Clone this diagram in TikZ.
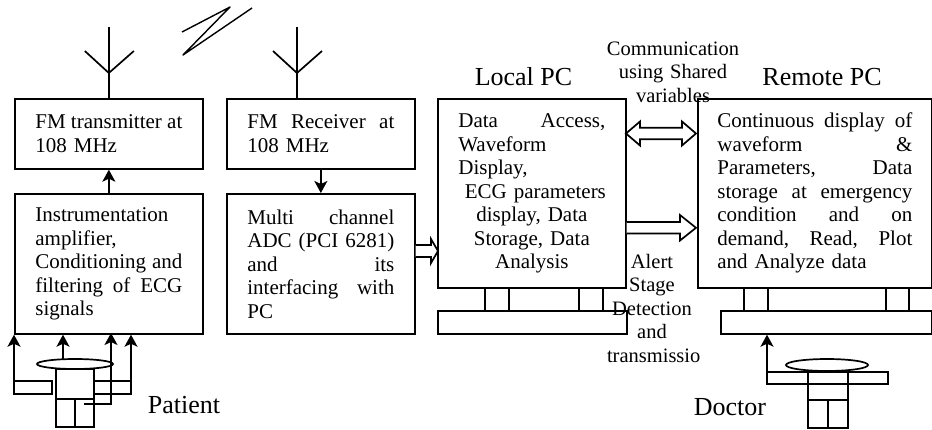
\documentclass[tikz,border=0pt]{standalone}
\usepackage{fontspec}
\setmainfont{Liberation Serif}
\usetikzlibrary{arrows.meta}
% one line of a block's text: spread to the full width, flush left or centred
\newcommand\jrow[1]{\hbox to\linewidth{\spaceskip=0.25em plus 1fil\relax #1}\par}
\newcommand\lrow[1]{\makebox[\linewidth][l]{#1}\par}
\newcommand\crow[1]{\makebox[\linewidth][c]{#1}\par}

\begin{document}
\begin{tikzpicture}[x=1pt,y=-1pt,
  line width=1.7pt, line join=miter,
  block/.style={draw, rectangle, inner xsep=20.5pt, inner ysep=0pt, anchor=north west,
    font=\fontsize{21}{23.5}\selectfont},
  stand/.style={draw, rectangle, inner sep=0pt, anchor=north west},
  lbl/.style={font=\fontsize{26}{30}\selectfont, inner sep=0pt, anchor=base},
  note/.style={font=\fontsize{20.5}{23.6}\selectfont, inner sep=0pt, align=center, anchor=base},
  sig/.style={-{Stealth[length=12pt,width=13pt,inset=3pt]}},
  hollow/.style={draw, fill=white, line join=miter},
]
\useasboundingbox (0,0) rectangle (932,429);

% ---------- acquisition side ----------
\node[block, minimum width=188pt, minimum height=70pt, text width=147pt] (tx) at (14,98)
  {\jrow{FM transmitter at}\lrow{108 MHz}};
\node[block, minimum width=188pt, minimum height=70pt, text width=147pt] (rx) at (226,98)
  {\jrow{FM Receiver at}\lrow{108 MHz}};
\node[block, minimum width=188pt, minimum height=140pt, text width=147pt] (amp) at (14,193)
  {\lrow{Instrumentation}\lrow{amplifier,}\jrow{Conditioning and}\jrow{filtering of ECG}\lrow{signals}};
\node[block, minimum width=188pt, minimum height=140pt, text width=147pt] (adc) at (226,193)
  {\jrow{Multi channel}\jrow{ADC (PCI 6281)}\jrow{and its}\jrow{interfacing with}\lrow{PC}};

\draw[sig] (amp.north) -- (tx.south);
\draw[sig] (rx.south) -- (adc.north);

% antennas
\draw (tx.north) -- ++(0,-71);
\draw ([shift={(-24,-47)}]tx.north) -- ([shift={(0,-25)}]tx.north) -- ([shift={(25,-47)}]tx.north);
\coordinate (rxfeed) at (297,98);
\draw (rxfeed) -- ++(0,-71);
\draw ([shift={(-24,-47)}]rxfeed) -- ([shift={(0,-25)}]rxfeed) -- ([shift={(25,-47)}]rxfeed);

% radio link
\draw[line width=1.4pt, line join=round] (182,32) -- (230,7) -- (183,55) -- (252,8);

% ---------- local PC ----------
\node[lbl] (localname) at (523.5,85) {Local PC};
\node[block, minimum width=188pt, minimum height=189pt, text width=147pt] (local) at (437,98)
  {\jrow{Data Access,}\lrow{Waveform}\lrow{Display,}\crow{ ECG parameters}\crow{display, Data}\crow{Storage, Data}\crow{Analysis}};
\node[stand, minimum width=24pt, minimum height=23pt] (lfoot1) at (484,287) {};
\node[stand, minimum width=24pt, minimum height=23pt] (lfoot2) at (578,287) {};
\node[stand, minimum width=189pt, minimum height=23pt] (lbase) at (437,310) {};

% ---------- remote PC ----------
\node[lbl] (remotename) at (822,85) {Remote PC};
\node[block, inner xsep=19.5pt, minimum width=234pt, minimum height=189pt, text width=195pt] (remote) at (697,98)
  {\jrow{Continuous display of}\jrow{waveform \&}\jrow{Parameters, Data}\jrow{storage at emergency}\jrow{condition and on}\jrow{demand, Read, Plot}\lrow{and Analyze data}};
\node[stand, minimum width=24pt, minimum height=23pt] (rfoot1) at (743,287) {};
\node[stand, minimum width=23pt, minimum height=23pt] (rfoot2) at (885,287) {};
\node[stand, minimum width=211pt, minimum height=23pt] (rbase) at (720,310) {};

% ---------- block arrows ----------
\draw[hollow] (adc.east |- 0,245) -- (431,245) -- (431,239) -- (438,251) -- (431,263) -- (431,257) -- (adc.east |- 0,257);
\draw[hollow] (626,133.5) -- (640,121.5) -- (640,127.7) -- (682,127.7) -- (682,121.5) -- (696,133.5)
  -- (682,145.5) -- (682,139.3) -- (640,139.3) -- (640,145.5) -- cycle;
\draw[hollow] (local.east |- 0,222) -- (680,222) -- (680,215) -- (696,227.8) -- (680,240.5) -- (680,233.5) -- (local.east |- 0,233.5);

\node[note, text width=140pt] (comm) at (673,55) {Communication\\using Shared\\variables};
\node[note, text width=90pt] (alert) at (652,268) {Alert\\Stage\\Detection\\and\\transmissio};

% ---------- patient ----------
\draw (75,364) ellipse [x radius=38pt, y radius=5pt];
\draw (56,369) rectangle (94,399);
\draw (56,399) rectangle (94,427);
\draw (75,399) -- (75,427);
\draw (14,381) rectangle (52,394);
\draw (94,381) rectangle (131,394);
\coordinate (leadA) at (14,381);
\coordinate (leadB) at (63,359);
\coordinate (leadC) at (84,404);
\coordinate (leadD) at (131,381);
\draw[sig] (leadA) -- (leadA |- amp.south);
\draw[sig] (leadB) -- (leadB |- amp.south);
\draw[sig] (leadC) -| (111,333);
\draw[sig] (leadD) -- (leadD |- amp.south);
\node[lbl, anchor=base west] (patname) at (147,413) {Patient};

% ---------- doctor ----------
\draw (827,365) ellipse [x radius=41pt, y radius=6pt];
\draw (808,371) rectangle (848,400);
\draw (808,400) rectangle (848,428);
\draw (828,400) -- (828,428);
\draw (767,372) rectangle (888,384);
\coordinate (docarm) at (767,384);
\draw[sig] (docarm) -- (docarm |- rbase.south);
\node[lbl, anchor=base west] (docname) at (693,415) {Doctor};
\end{tikzpicture}
\end{document}
